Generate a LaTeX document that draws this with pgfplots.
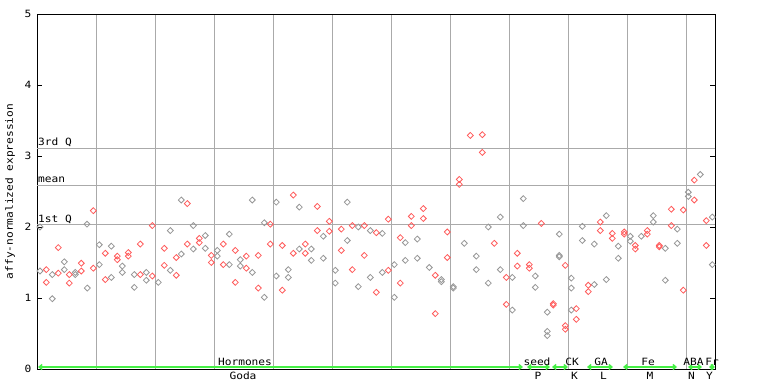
\documentclass[border=0pt]{standalone}
\usepackage{fontspec}
\setmainfont{DejaVu Sans Mono}[FakeStretch=1.12]
\usepackage{pgfplots}
\pgfplotsset{compat=1.18}
\usetikzlibrary{arrows.meta}
\definecolor{gridgray}{RGB}{170,170,170}
\definecolor{ptred}{RGB}{255,90,90}
\definecolor{ptgray}{RGB}{150,150,150}
\definecolor{lgreen}{RGB}{70,240,70}
\tikzset{bl/.style={anchor=base, inner sep=0pt, yshift=3.5pt},
  bb/.style={anchor=base, inner sep=0pt, yshift=-10pt}}
\begin{document}
\begin{tikzpicture}[x=1pt,y=1pt]
\useasboundingbox (0,0) rectangle (768,384);
\begin{axis}[
  at={(37pt,15pt)}, anchor=south west,
  scale only axis, width=678pt, height=355pt,
  xmin=37, xmax=715, ymin=0, ymax=5,
  axis line style={black, line width=0.8pt},
  xtick={96,155,214,273,332,391,450,509,568,627,686},
  xticklabels={},
  xmajorgrids,
  major x tick style={draw=none},
  major grid style={gridgray, line width=0.8pt},
  ytick={0,1,2,3,4,5},
  ytick pos=left,
  tick align=inside,
  major y tick style={black, line width=0.8pt},
  major tick length=5pt,
  font=\fontsize{10}{10}\selectfont,
  yticklabel style={font=\fontsize{10}{10}\selectfont, xshift=-2pt},
  /pgf/number format/assume math mode=true,
  ylabel={affy-normalized expression},
  ylabel style={font=\fontsize{10}{10}\selectfont, at={(axis description cs:-0.0398,0.5)}, anchor=center},
  clip=false,
]
\draw[gridgray, line width=0.8pt] (axis cs:37,3.108) -- (axis cs:715,3.108);
\draw[gridgray, line width=0.8pt] (axis cs:37,2.587) -- (axis cs:715,2.587);
\draw[gridgray, line width=0.8pt] (axis cs:37,2.03) -- (axis cs:715,2.03);
\node[anchor=base west, inner sep=0pt, xshift=1pt, yshift=2.5pt] at (axis cs:37,3.108) {3rd Q};
\node[anchor=base west, inner sep=0pt, xshift=1pt, yshift=2.5pt] at (axis cs:37,2.587) {mean};
\node[anchor=base west, inner sep=0pt, xshift=1pt, yshift=2.5pt] at (axis cs:37,2.03) {1st Q};
\draw[black, line width=0.8pt] (axis cs:715,1) -- ([xshift=-5pt]axis cs:715,1);
\draw[black, line width=0.8pt] (axis cs:715,2) -- ([xshift=-5pt]axis cs:715,2);
\draw[black, line width=0.8pt] (axis cs:715,3) -- ([xshift=-5pt]axis cs:715,3);
\draw[black, line width=0.8pt] (axis cs:715,4) -- ([xshift=-5pt]axis cs:715,4);

\addplot[only marks, mark=square, mark size=2.1pt, mark options={rotate=45, ptgray, line width=0.8pt}] coordinates {
(40,2.00) (40,1.38) (52.3,1.33) (52.3,0.99) (64.3,1.51) (64.3,1.40) (75.3,1.36) (75.3,1.33)
(87,2.04) (87.3,1.14) (99.3,1.75) (99.3,1.47) (111.3,1.73) (111.3,1.29) (122.3,1.45) (122.3,1.36)
(134.3,1.33) (134.3,1.15) (146.3,1.36) (146.3,1.25) (158.3,1.22) (170.3,1.95) (170.3,1.39)
(181.3,2.38) (181.3,1.62) (193.3,2.02) (193.3,1.69) (205.3,1.88) (205.3,1.70) (217.3,1.67) (217.3,1.59)
(229.3,1.90) (229.3,1.47) (240.3,1.54) (240.3,1.45) (252.3,2.38) (252.3,1.36) (264.3,2.06) (264.3,1.01)
(276.3,2.35) (276.3,1.31) (288.3,1.40) (288.3,1.29) (299.3,2.28) (299.3,1.69) (311.3,1.69) (311.3,1.53)
(323.3,1.87) (323.3,1.56) (335.3,1.39) (335.3,1.21) (347.3,2.35) (347.3,1.81) (358.3,2.00) (358.3,1.16)
(370.3,1.95) (370.3,1.29) (382.3,1.91) (382.3,1.36) (394.3,1.47) (394.3,1.01) (405.3,1.78) (405.3,1.53)
(417.3,1.83) (417.3,1.56) (429.3,1.43) (441.3,1.26) (441.3,1.23) (453.3,1.16) (453.3,1.14) (464.3,1.77)
(476.3,1.59) (476.3,1.40) (488.3,2.00) (488.3,1.21) (500.3,2.14) (500.3,1.40) (512.3,1.29) (512.3,0.83)
(523.3,2.40) (523.3,2.02) (535.3,1.31) (535.3,1.15) (547.3,0.80) (547.3,0.53) (547.3,0.47)
(559.3,1.90) (559.3,1.60) (559.3,1.58) (571.3,1.28) (571.3,1.14) (571.3,0.83) (582.3,2.01) (582.3,1.81)
(594.3,1.76) (594.3,1.19) (606.3,2.16) (606.3,1.26) (618.3,1.73) (618.3,1.56) (630.3,1.87) (630.3,1.80)
(641.3,1.87) (653.3,2.16) (653.3,2.07) (665.3,1.70) (665.3,1.25) (677.3,1.97) (677.3,1.77)
(688.3,2.49) (688.3,2.43) (700.3,2.74) (712.3,2.14) (712.3,1.47)
};
\addplot[only marks, mark=square, mark size=2.1pt, mark options={rotate=45, ptred, line width=0.8pt}] coordinates {
(46.3,1.40) (46.3,1.22) (58.3,1.71) (58.3,1.35) (69.3,1.33) (69.3,1.21) (81.3,1.49) (81.3,1.38)
(93.3,2.23) (93.3,1.42) (105.3,1.63) (105.3,1.26) (117.3,1.59) (117.3,1.54) (128.3,1.64) (128.3,1.59)
(140.3,1.76) (140.3,1.33) (152.3,2.02) (152.3,1.31) (164.3,1.70) (164.3,1.46) (176.3,1.57) (176.3,1.32)
(187.3,2.33) (187.3,1.76) (199.3,1.84) (199.3,1.78) (211.3,1.60) (211.3,1.50) (223.3,1.76) (223.3,1.47)
(235.3,1.67) (235.3,1.22) (246.3,1.59) (246.3,1.42) (258.3,1.60) (258.3,1.14) (270.3,2.04) (270.3,1.76)
(282.3,1.74) (282.3,1.11) (293.3,2.45) (293.3,1.63) (305.3,1.76) (305.3,1.63) (317.3,2.29) (317.3,1.95)
(329.3,2.08) (329.3,1.94) (341.3,1.97) (341.3,1.67) (352.3,2.02) (352.3,1.40) (364.3,2.02) (364.3,1.60)
(376.3,1.92) (376.3,1.08) (388.3,2.11) (388.3,1.39) (400.3,1.85) (400.3,1.21) (411.3,2.15) (411.3,2.02)
(423.3,2.26) (423.3,2.12) (435.3,1.32) (435.3,0.78) (447.3,1.93) (447.3,1.57) (459.3,2.67) (459.3,2.60)
(470.3,3.29) (482.3,3.30) (482.3,3.05) (494.3,1.77) (506.3,1.29) (506.3,0.91) (517.3,1.63) (517.3,1.45)
(529.3,1.47) (529.3,1.42) (541.3,2.05) (553.3,0.92) (553.3,0.90) (565.3,1.46) (565.3,0.61) (565.3,0.56)
(576.3,0.85) (576.3,0.70) (588.3,1.18) (588.3,1.09) (600.3,2.07) (600.3,1.95) (612.3,1.91) (612.3,1.84)
(624.3,1.93) (624.3,1.90) (635.3,1.74) (635.3,1.69) (647.3,1.95) (647.3,1.90) (659.3,1.74) (659.3,1.72)
(671.3,2.25) (671.3,2.02) (683.3,2.24) (683.3,1.11) (694.3,2.66) (694.3,2.38) (706.3,2.09) (706.3,1.74)
};

\begin{scope}[lgreen, line width=1.5pt, {Straight Barb[length=3pt,width=5pt]}-{Straight Barb[length=3pt,width=5pt]}]
\draw ([yshift=2pt]axis cs:38,0) -- ([yshift=2pt]axis cs:523,0);
\draw ([yshift=2pt]axis cs:527,0) -- ([yshift=2pt]axis cs:550,0);
\draw ([yshift=2pt]axis cs:552,0) -- ([yshift=2pt]axis cs:568,0);
\draw ([yshift=2pt]axis cs:587,0) -- ([yshift=2pt]axis cs:613,0);
\draw ([yshift=2pt]axis cs:623,0) -- ([yshift=2pt]axis cs:677,0);
\draw ([yshift=2pt]axis cs:688,0) -- ([yshift=2pt]axis cs:702,0);
\draw ([yshift=2pt]axis cs:709,0) -- ([yshift=2pt]axis cs:715,0);
\end{scope}

\node[bl] at (axis cs:245,0) {Hormones};
\node[bl] at (axis cs:537,0) {seed};
\node[bl] at (axis cs:572,0) {CK};
\node[bl] at (axis cs:601,0) {GA};
\node[bl] at (axis cs:648,0) {Fe};
\node[bl] at (axis cs:693.5,0) {ABA};
\node[bl] at (axis cs:712,0) {Fr};
\node[bb] at (axis cs:243,0) {Goda};
\node[bb] at (axis cs:538,0) {P};
\node[bb] at (axis cs:574.5,0) {K};
\node[bb] at (axis cs:603.5,0) {L};
\node[bb] at (axis cs:650,0) {M};
\node[bb] at (axis cs:691.5,0) {N};
\node[bb] at (axis cs:709.5,0) {Y};
\end{axis}
\end{tikzpicture}
\end{document}
